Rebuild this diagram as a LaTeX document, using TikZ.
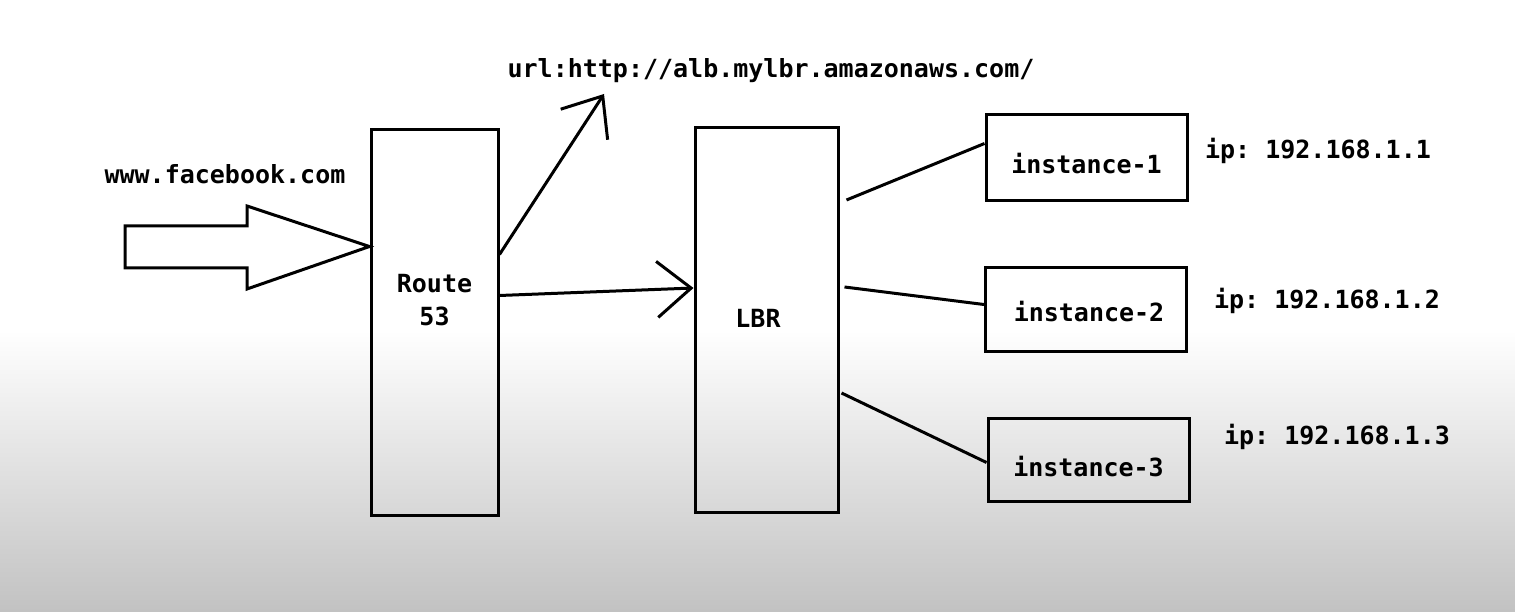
\documentclass[tikz,border=0pt]{standalone}
\usepackage{fontspec}
\setmonofont{DejaVu Sans Mono}
\usetikzlibrary{arrows.meta, positioning}

\newcommand{\lblfont}{\ttfamily\bfseries\fontsize{25}{33}\selectfont}

\begin{document}
\begin{tikzpicture}[x=1pt,y=-1pt]

% --- Define Styles ---
\tikzstyle{tallbox} = [rectangle, draw=black, line width=3pt, minimum height=385pt]
\tikzstyle{hostbox} = [rectangle, draw=black, line width=3pt, minimum width=201pt, minimum height=86pt, text depth=0pt, font=\lblfont]
\tikzstyle{lbl} = [font=\lblfont, inner sep=0pt]
\tikzstyle{wire} = [line width=3pt]
\tikzstyle{arrow} = [line width=3pt, -{Straight Barb[length=34pt,width=56pt,line width=3pt]}]

% --- Background ---
\useasboundingbox (0,0) rectangle (1515,612);
\fill[white] (0,0) rectangle (1515,612);
\shade[top color=white, bottom color=black!24] (0,330) rectangle (1515,612);

% --- Nodes ---
\node (route) [tallbox, minimum width=127pt] at (434.5,322.5) {};
\node (routetext) [lbl, align=center] at ([yshift=22pt]route.center) {Route\\53};
\node (lbr) [tallbox, minimum width=143pt] at (766.5,320) {};
\node (lbrtext) [lbl] at (758,318) {LBR};

\node (inst1) [hostbox, text height=33pt] at (1086.5,157.5) {instance-1};
\node (inst2) [hostbox, text height=25pt, minimum height=83pt] at (1086,309.5) {\hspace{6pt}instance-2};
\node (inst3) [hostbox, text height=33pt, minimum height=83pt] at (1088.5,459.5) {instance-3};

\node (ip1) [lbl] at (1318,151) {ip: 192.168.1.1};
\node (ip2) [lbl] at (1327,301) {ip: 192.168.1.2};
\node (ip3) [lbl] at (1337,437) {ip: 192.168.1.3};

\node (site) [lbl] at (225,174) {www.facebook.com};
\node (url) [lbl] at (771,71) {url:http://alb.mylbr.amazonaws.com/};
\coordinate (urltip) at (604,94);

% --- Arrows ---
\draw [wire, line join=miter] (125,226) -- (247,226) -- (247,206) -- ([yshift=76pt]route.west)
  -- (247,289) -- (247,268) -- (125,268) -- cycle;
\draw [arrow] ([yshift=68pt]route.east) -- (urltip);
\draw [arrow] ([yshift=27pt]route.east) -- ([yshift=32pt]lbr.west);
\draw [wire] ([xshift=7pt,yshift=120pt]lbr.east) -- ([yshift=14pt]inst1.west);
\draw [wire] ([xshift=5pt,yshift=33pt]lbr.east) -- ([yshift=5pt]inst2.west);
\draw [wire] ([xshift=2pt,yshift=-73pt]lbr.east) -- ([yshift=-3pt]inst3.west);

\end{tikzpicture}
\end{document}
